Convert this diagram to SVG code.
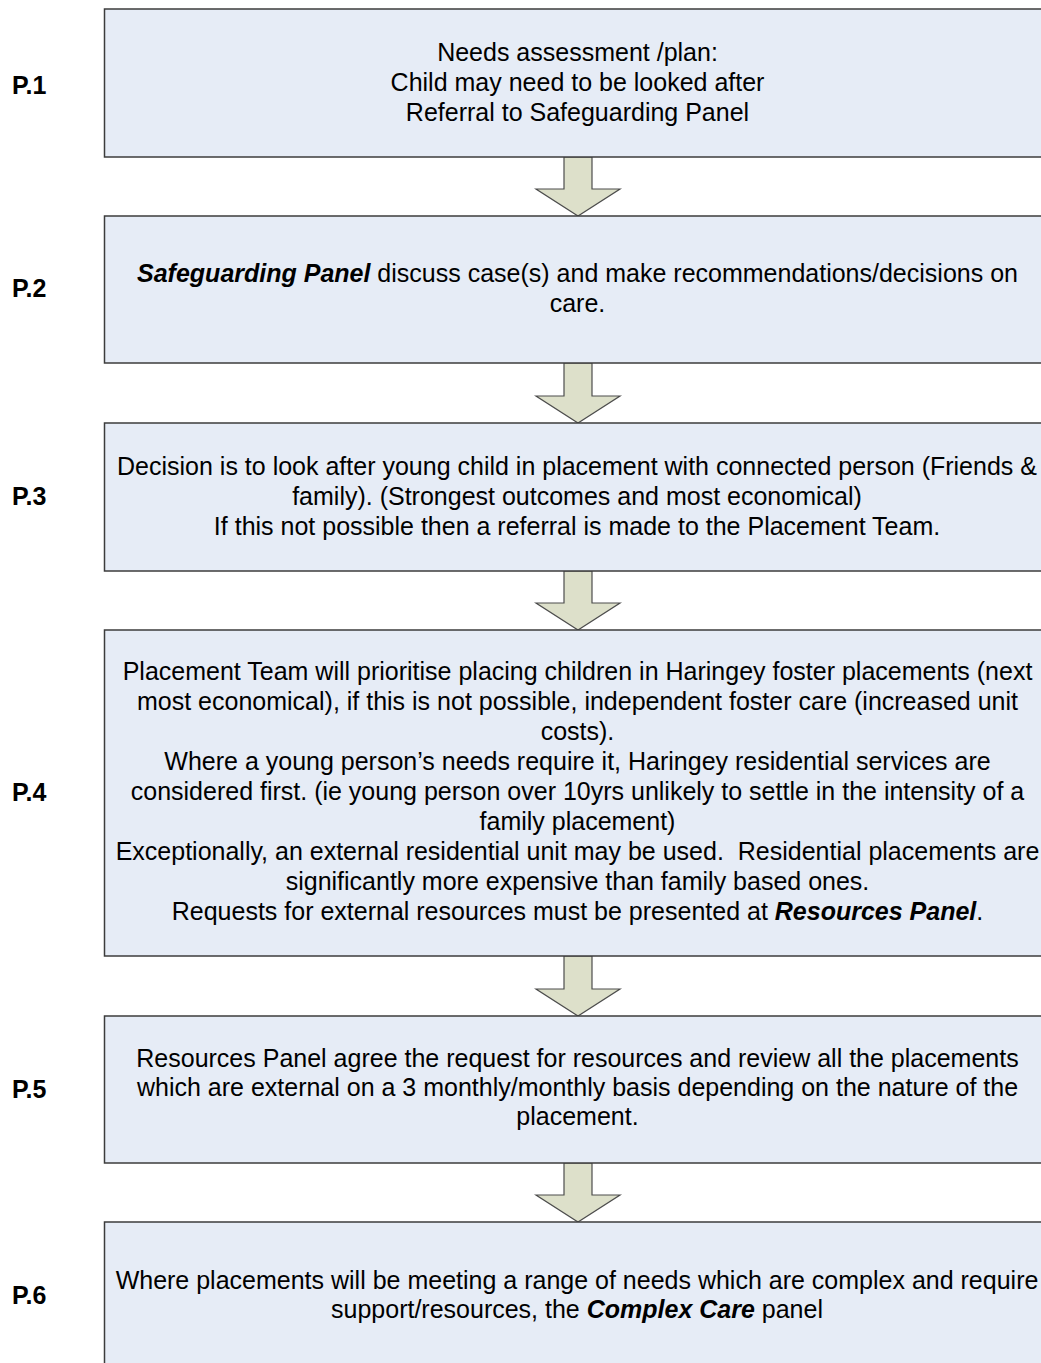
<svg xmlns="http://www.w3.org/2000/svg" width="1041" height="1363" viewBox="0 0 1041 1363">
<style>
.box{fill:#e6ecf6;stroke:#3c3c3c;stroke-width:1.5}
.arr{fill:#dde0ca;stroke:#4d4d4d;stroke-width:1.2;stroke-linejoin:miter}
.t{font-family:"Liberation Sans",Arial,sans-serif;font-size:25px;fill:#000;text-anchor:middle}
.lbl{font-family:"Liberation Sans",Arial,sans-serif;font-size:25px;font-weight:bold;fill:#000}
.bi{font-weight:bold;font-style:italic}
</style>
<rect width="1041" height="1363" fill="#ffffff"/>
<g id="connectors">
<polygon class="arr" points="564,157 592,157 592,189 620,189 578,216 536,189 564,189"/>
<polygon class="arr" points="564,363 592,363 592,396 620,396 578,423 536,396 564,396"/>
<polygon class="arr" points="564,571 592,571 592,603 620,603 578,630 536,603 564,603"/>
<polygon class="arr" points="564,956 592,956 592,989 620,989 578,1016 536,989 564,989"/>
<polygon class="arr" points="564,1163 592,1163 592,1195 620,1195 578,1222 536,1195 564,1195"/>
</g>
<g id="node1">
<rect class="box" x="104.5" y="9" width="946" height="148"/>
<text class="lbl" x="12" y="94">P.1</text>
<text class="t" x="577.5" y="61">Needs assessment /plan:</text>
<text class="t" x="577.5" y="91">Child may need to be looked after</text>
<text class="t" x="577.5" y="121">Referral to Safeguarding Panel</text>
</g>
<g id="node2">
<rect class="box" x="104.5" y="216" width="946" height="147"/>
<text class="lbl" x="12" y="297">P.2</text>
<text class="t" x="577.5" y="282"><tspan class="bi">Safeguarding Panel</tspan> discuss case(s) and make recommendations/decisions on</text>
<text class="t" x="577.5" y="311.5">care.</text>
</g>
<g id="node3">
<rect class="box" x="104.5" y="423" width="946" height="148"/>
<text class="lbl" x="12" y="505">P.3</text>
<text class="t" x="577" y="475">Decision is to look after young child in placement with connected person (Friends &amp;</text>
<text class="t" x="577" y="505">family). (Strongest outcomes and most economical)</text>
<text class="t" x="577" y="535">If this not possible then a referral is made to the Placement Team.</text>
</g>
<g id="node4">
<rect class="box" x="104.5" y="630" width="946" height="326"/>
<text class="lbl" x="12" y="801">P.4</text>
<text class="t" x="577.5" y="680">Placement Team will prioritise placing children in Haringey foster placements (next</text>
<text class="t" x="577.5" y="710">most economical), if this is not possible, independent foster care (increased unit</text>
<text class="t" x="577.5" y="740">costs).</text>
<text class="t" x="577.5" y="770">Where a young person’s needs require it, Haringey residential services are</text>
<text class="t" x="577.5" y="800">considered first. (ie young person over 10yrs unlikely to settle in the intensity of a</text>
<text class="t" x="577.5" y="830">family placement)</text>
<text class="t" x="577.5" y="860" xml:space="preserve">Exceptionally, an external residential unit may be used.  Residential placements are</text>
<text class="t" x="577.5" y="890">significantly more expensive than family based ones.</text>
<text class="t" x="577.5" y="920">Requests for external resources must be presented at <tspan class="bi">Resources Panel</tspan>.</text>
</g>
<g id="node5">
<rect class="box" x="104.5" y="1016" width="946" height="147"/>
<text class="lbl" x="12" y="1098">P.5</text>
<text class="t" x="577.5" y="1066.5">Resources Panel agree the request for resources and review all the placements</text>
<text class="t" x="577.5" y="1095.5">which are external on a 3 monthly/monthly basis depending on the nature of the</text>
<text class="t" x="577.5" y="1124.5">placement.</text>
</g>
<g id="node6">
<rect class="box" x="104.5" y="1222" width="946" height="160"/>
<text class="lbl" x="12" y="1304">P.6</text>
<text class="t" x="577" y="1289">Where placements will be meeting a range of needs which are complex and require</text>
<text class="t" x="577" y="1318">support/resources, the <tspan class="bi">Complex Care</tspan> panel</text>
</g>
</svg>
